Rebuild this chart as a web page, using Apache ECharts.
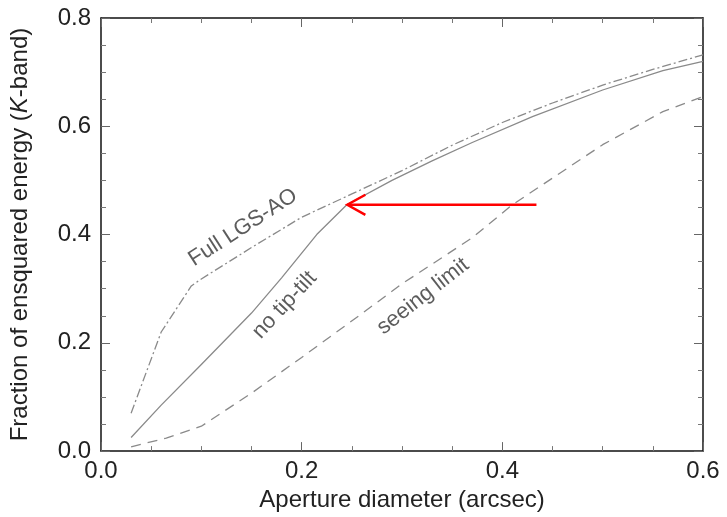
<!DOCTYPE html>
<html>
<head>
<meta charset="utf-8">
<script src="https://cdn.jsdelivr.net/npm/echarts@6/dist/echarts.min.js"></script>
<style>html,body{margin:0;padding:0;background:#fff}#c{width:727px;height:517px}</style>
</head>
<body>
<div id="c"></div>
<script>
// ---- data ----
var xTicks = [0.0, 0.2, 0.4, 0.6];
var yTicks = [0.0, 0.2, 0.4, 0.6, 0.8];

var noTipTiltX = [0.03, 0.06, 0.10, 0.15, 0.18, 0.215, 0.245, 0.29, 0.33, 0.37, 0.43, 0.50, 0.56, 0.60];
var noTipTiltY = [0.025, 0.085, 0.16, 0.255, 0.32, 0.40, 0.455, 0.50, 0.536, 0.570, 0.618, 0.667, 0.703, 0.72];

var fullAOX = [0.03, 0.06, 0.09, 0.10, 0.15, 0.20, 0.25, 0.30, 0.35, 0.40, 0.45, 0.50, 0.55, 0.60];
var fullAOY = [0.07, 0.22, 0.305, 0.318, 0.376, 0.432, 0.475, 0.518, 0.565, 0.607, 0.643, 0.676, 0.705, 0.732];

var seeingX = [0.03, 0.065, 0.10, 0.15, 0.20, 0.26, 0.30, 0.37, 0.41, 0.50, 0.56, 0.60];
var seeingY = [0.008, 0.024, 0.046, 0.107, 0.173, 0.254, 0.309, 0.394, 0.455, 0.566, 0.627, 0.655];

var arrowX = [0.434, 0.2455];
var arrowY = [0.455, 0.455];
var arrowHeadX = [0.2635, 0.2455, 0.2635];
var arrowHeadY = [0.4735, 0.455, 0.4365];

var labelTexts = ['Full LGS-AO', 'no tip-tilt', 'seeing limit'];
var labelX = [0.1416, 0.183, 0.321];
var labelY = [0.413, 0.270, 0.286];
var labelAngle = [33, 47, 38];

function pairs(xs, ys) { return xs.map(function (x, i) { return [x, ys[i]]; }); }

var FONT = '"Liberation Sans", Arial, sans-serif';
var lineColor = '#8a8a8a';

function axisBase(extra) {
  var a = {
    type: 'value',
    axisLine: { show: true, onZero: false, lineStyle: { color: '#111', width: 1.5 } },
    axisTick: { show: true, inside: true, length: 9, lineStyle: { color: '#666', width: 1 } },
    minorTick: { show: true, splitNumber: 4, length: 5, lineStyle: { color: '#777', width: 1 } },
    splitLine: { show: false },
    minorSplitLine: { show: false }
  };
  for (var k in extra) a[k] = extra[k];
  return a;
}

var xMin = xTicks[0], xMax = xTicks[xTicks.length - 1];
var yMin = yTicks[0], yMax = yTicks[yTicks.length - 1];

var chart = echarts.init(document.getElementById('c'), null, { renderer: 'canvas' });
chart.setOption({
  animation: false,
  backgroundColor: '#fff',
  grid: { left: 97, right: 24, top: 18, bottom: 62, containLabel: false },
  xAxis: [
    axisBase({
      position: 'bottom', min: xMin, max: xMax, interval: 0.2,
      axisLabel: { show: true, margin: 8, color: '#222', fontSize: 24, fontFamily: FONT,
        formatter: function (v) { return v.toFixed(1); } },
      name: 'Aperture diameter (arcsec)', nameLocation: 'middle', nameGap: 31,
      nameTextStyle: { color: '#222', fontSize: 24, fontFamily: FONT }
    }),
    axisBase({ position: 'top', min: xMin, max: xMax, interval: 0.2, axisLabel: { show: false } })
  ],
  yAxis: [
    axisBase({
      position: 'left', min: yMin, max: yMax, interval: 0.2,
      axisLabel: { show: true, margin: 10, color: '#222', fontSize: 24, fontFamily: FONT,
        formatter: function (v) { return v.toFixed(1); } },
      name: 'Fraction of ensquared energy ({i|K}-band)', nameLocation: 'middle', nameGap: 69,
      nameTextStyle: { color: '#222', fontSize: 24, fontFamily: FONT,
        rich: { i: { fontStyle: 'italic', fontSize: 24, fontFamily: FONT, color: '#222' } } }
    }),
    axisBase({ position: 'right', min: yMin, max: yMax, interval: 0.2, axisLabel: { show: false } })
  ],
  series: [
    { type: 'line', name: 'no tip-tilt', data: pairs(noTipTiltX, noTipTiltY), symbol: 'none', silent: true,
      lineStyle: { color: lineColor, width: 1.3, type: 'solid' } },
    { type: 'line', name: 'Full LGS-AO', data: pairs(fullAOX, fullAOY), symbol: 'none', silent: true,
      lineStyle: { color: lineColor, width: 1.3, type: [9, 3, 2, 3] } },
    { type: 'line', name: 'seeing limit', data: pairs(seeingX, seeingY), symbol: 'none', silent: true,
      lineStyle: { color: lineColor, width: 1.3, type: [10, 7] } },
    { type: 'line', name: 'arrow', data: pairs(arrowX, arrowY), symbol: 'none', silent: true,
      lineStyle: { color: '#ff0000', width: 2.5 } },
    { type: 'line', name: 'arrowHead', data: pairs(arrowHeadX, arrowHeadY), symbol: 'none', silent: true,
      lineStyle: { color: '#ff0000', width: 2.5, join: 'miter' } },
    { type: 'scatter', name: 'labels', symbolSize: 0, silent: true,
      data: labelTexts.map(function (t, i) {
        return { value: [labelX[i], labelY[i]], name: t,
          label: { show: true, position: 'inside', rotate: labelAngle[i], formatter: t,
            color: '#333', fontSize: 22, fontFamily: FONT, align: 'center', verticalAlign: 'middle' } };
      }) }
  ]
});
</script>
</body>
</html>
